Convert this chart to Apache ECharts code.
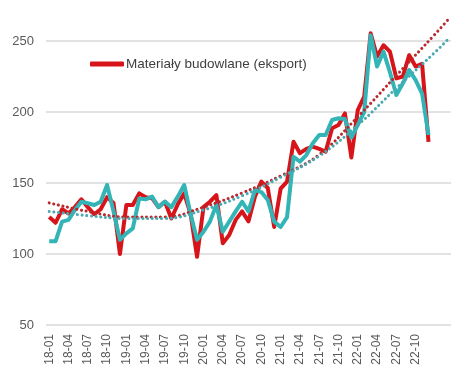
<!DOCTYPE html>
<html>
<head>
<meta charset="utf-8">
<script src="https://cdn.jsdelivr.net/npm/echarts@6/dist/echarts.min.js"></script>
<style>
html,body{margin:0;padding:0;background:#fff;}
#c{width:474px;height:379px;}
</style>
</head>
<body>
<div id="c"></div>
<script>
var categories = [
 '18-01','18-02','18-03','18-04','18-05','18-06','18-07','18-08','18-09','18-10','18-11','18-12',
 '19-01','19-02','19-03','19-04','19-05','19-06','19-07','19-08','19-09','19-10','19-11','19-12',
 '20-01','20-02','20-03','20-04','20-05','20-06','20-07','20-08','20-09','20-10','20-11','20-12',
 '21-01','21-02','21-03','21-04','21-05','21-06','21-07','21-08','21-09','21-10','21-11','21-12',
 '22-01','22-02','22-03','22-04','22-05','22-06','22-07','22-08','22-09','22-10','22-11','22-12',
 '','',''
];
var redName = 'Materiały budowlane (eksport)';
var tealName = 'Materiały budowlane (import)';
var redValues = [
 126,122,131.5,128.5,133,138.5,133,128,131.5,140,136,100,
 134.5,134.5,142.7,140,139.3,133,136.8,125,135,142.7,128,98,
 133,136.8,141.5,107.5,113.4,124,130,123,140.4,151,146.5,119,
 146,151,179,171,174,175.6,174,172,188.5,190.8,199,168,
 201.4,210.8,255.4,239,247,242.5,223.7,225,240,232,234,179
];
var tealValues = [
 109,109,122.8,124,131,136.8,135.7,134.5,136.8,148.6,130,110,
 114.5,118,139,138.5,140.4,133,137,133,140.4,148.6,128,110,
 115.7,122.8,134.5,115.7,122.8,130,136.8,130,145,143.6,138,122.8,
 119,126,168.5,165,169.7,178,183.8,183.8,194.4,195.6,195,182,
 191,200,254,232,242.5,228,212,220,229.6,222.5,213,183.8
];
// dotted trend lines, read at every 6th month (null = not read)
var _ = null;
var redTrend = [
 136,_,_,_,_,_,130,_,_,_,_,_,126,_,_,_,_,_,126,_,_,_,_,_,
 133,_,_,_,_,_,143,_,_,_,_,_,155,_,_,_,_,_,170,_,_,_,_,_,
 196.6,_,_,_,_,_,225.7,_,_,_,_,_,254.7,_,264.8
];
var tealTrend = [
 130,_,_,_,_,_,127,_,_,_,_,_,125,_,_,_,_,_,125,_,_,_,_,_,
 131,_,_,_,_,_,141,_,_,_,_,_,154,_,_,_,_,_,169,_,_,_,_,_,
 190.7,_,_,_,_,_,216.8,_,_,_,_,_,242,_,251
];
var yMin = 50, yMax = 300, yStep = 50;

var chart = echarts.init(document.getElementById('c'), null, {renderer:'canvas'});
chart.setOption({
  animation:false,
  backgroundColor:'#ffffff',
  textStyle:{fontFamily:'Liberation Sans'},
  grid:{left:46, right:23, top:-30, bottom:54, containLabel:false, outerBoundsMode:'none'},
  legend:{
    data:[redName], left:90, top:57, padding:0, icon:'roundRect',
    itemWidth:34, itemHeight:5, itemGap:10,
    textStyle:{fontSize:13.5, color:'#404040', fontFamily:'Liberation Sans', padding:[0,0,0,-3]}
  },
  xAxis:{
    type:'category', data:categories, boundaryGap:true,
    axisLine:{show:false}, axisTick:{show:false},
    axisLabel:{interval:2, rotate:90, fontSize:12, color:'#595959', margin:9, fontFamily:'Liberation Sans'},
    splitLine:{show:false}
  },
  yAxis:{
    type:'value', min:yMin, max:yMax, interval:yStep,
    axisLine:{show:false}, axisTick:{show:false},
    axisLabel:{fontSize:13, color:'#595959', margin:12, fontFamily:'Liberation Sans'},
    splitLine:{lineStyle:{color:'#d9d9d9', width:1.5}}
  },
  series:[
    {name:redName, type:'line', data:redValues, showSymbol:false, symbol:'none',
     lineStyle:{color:'#d7141a', width:4, join:'round'}, itemStyle:{color:'#d7141a'}, z:2},
    {name:tealName, type:'line', data:tealValues, showSymbol:false, symbol:'none',
     lineStyle:{color:'#33b4b6', width:4, join:'round'}, itemStyle:{color:'#33b4b6'}, z:3},
    {name:'trend1', type:'line', data:redTrend, connectNulls:true, smooth:0.4, showSymbol:false, symbol:'none',
     lineStyle:{color:'#b8282c', width:3, type:[0.1,4.6], cap:'round'}, z:4},
    {name:'trend2', type:'line', data:tealTrend, connectNulls:true, smooth:0.4, showSymbol:false, symbol:'none',
     lineStyle:{color:'#4ba9b2', width:3, type:[0.1,4.6], cap:'round'}, z:4}
  ]
});
</script>
</body>
</html>
